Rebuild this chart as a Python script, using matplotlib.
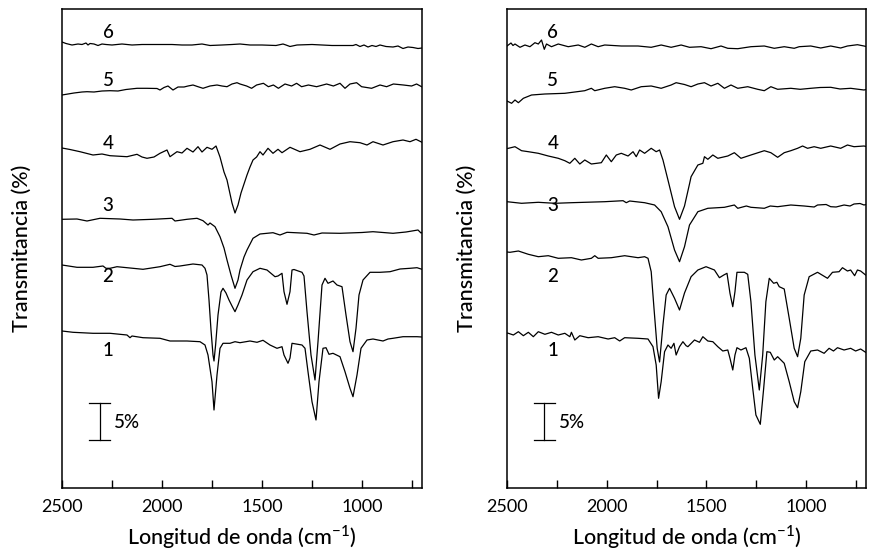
import matplotlib
matplotlib.use("Agg")
import matplotlib.pyplot as plt
from matplotlib.ticker import FixedLocator

plt.rcParams["font.family"] = ["Lato", "DejaVu Sans"]

# espectros: numero de onda (cm-1) y senal desplazada
# (unidades de la figura, 37 unidades = 5 % de transmitancia)

# ---- panel izquierdo ----
izq6_x = [2500, 2480, 2450, 2420, 2400, 2380, 2370, 2360, 2340, 2320, 2300, 2280, 2250, 2200, 2150,
          2100, 2050, 2000, 1950, 1900, 1850, 1800, 1760, 1700, 1650, 1610, 1560, 1500, 1430, 1395,
          1380, 1360, 1325, 1250, 1150, 1045, 1030, 1010, 990, 970, 950, 930, 910, 880, 845,
          820, 795, 770, 745, 720, 700]
izq6_y = [446, 444.5, 443, 444, 443.5, 445, 443, 444.5, 444, 442.5, 444, 443.5, 443, 444, 443,
          443.5, 443.5, 443.5, 443.5, 443, 443, 444, 442.5, 443, 443.5, 444, 443, 443, 442.5, 444,
          443, 441.5, 443, 443.5, 442.5, 442.5, 443.5, 441.5, 443, 441, 442.5, 441.5, 443, 441.5, 441,
          442, 439.5, 441, 440.5, 439.5, 440]

izq5_x = [2500, 2470, 2440, 2400, 2375, 2340, 2300, 2260, 2220, 2180, 2125, 2075, 2025, 2010, 1990,
          1970, 1945, 1920, 1890, 1870, 1845, 1820, 1795, 1760, 1725, 1700, 1675, 1650, 1625, 1610,
          1577, 1552, 1527, 1493, 1468, 1443, 1418, 1385, 1352, 1327, 1302, 1268, 1227, 1177, 1143,
          1110, 1085, 1060, 1027, 1002, 952, 910, 877, 843, 793, 752, 727, 702]
izq5_y = [393, 394, 395, 396, 396.3, 396, 397, 397.3, 397, 398.5, 399.7, 399.7, 399.5, 398, 400.5,
          402, 398, 401, 401, 402, 403, 401.3, 399.7, 402, 403, 402, 401.3, 404, 405.3, 404,
          402, 399.7, 403, 404.7, 401.3, 403, 399.7, 404, 402, 404.7, 401.3, 403, 401.3, 404, 402,
          404.7, 399.7, 404, 405.3, 401.3, 399.7, 403, 401.3, 404, 403, 402, 404, 401.3]

izq4_x = [2500, 2460, 2410, 2345, 2300, 2260, 2175, 2125, 2100, 2075, 2040, 2010, 1975, 1960, 1925,
          1900, 1875, 1845, 1820, 1800, 1775, 1750, 1730, 1710, 1690, 1675, 1650, 1635, 1620, 1605,
          1595, 1575, 1560, 1545, 1527, 1510, 1495, 1470, 1445, 1420, 1400, 1360, 1310, 1260, 1210,
          1160, 1110, 1060, 1010, 975, 945, 895, 845, 795, 760, 730, 700]
izq4_y = [340, 338.5, 336.3, 333, 334, 332.3, 331.3, 333.7, 331, 329.7, 331, 334.7, 338, 331.3, 336.3,
          335, 339.7, 336, 341.3, 336, 340.7, 338.7, 342, 331, 316, 308, 285, 275, 283, 295,
          301, 313, 321, 328, 331, 336.3, 333, 339.7, 334.7, 338.7, 335.3, 340.7, 336.3, 338.7, 343,
          338.7, 344, 346.3, 345.3, 343, 346.3, 343, 346.3, 348, 346.3, 348.7, 345.7]

izq3_x = [2500, 2425, 2375, 2310, 2210, 2145, 2045, 1950, 1935, 1875, 1825, 1795, 1770, 1760, 1735,
          1710, 1690, 1675, 1655, 1635, 1620, 1610, 1590, 1575, 1545, 1510, 1445, 1410, 1375, 1275,
          1240, 1200, 1110, 1000, 945, 845, 780, 720, 705, 700]
izq3_y = [268.7, 269, 267, 269.7, 269, 268, 268.7, 269.7, 267, 268.7, 269.7, 267.3, 263, 265, 261.3,
          251.3, 240, 228, 213, 199.7, 208, 218, 231, 238, 249.7, 254, 255.3, 253, 255.7, 254.7,
          253, 255, 254.7, 255.5, 256.3, 254.7, 256, 258, 255, 255.5]

izq2_x = [2500, 2425, 2345, 2295, 2280, 2260, 2225, 2160, 2095, 2010, 1960, 1935, 1910, 1845, 1800,
          1785, 1775, 1765, 1755, 1745, 1740, 1732, 1720, 1705, 1695, 1680, 1665, 1650, 1635, 1620,
          1600, 1575, 1545, 1510, 1475, 1435, 1420, 1400, 1390, 1375, 1360, 1350, 1340, 1300, 1290,
          1275, 1255, 1235, 1220, 1200, 1185, 1170, 1145, 1125, 1100, 1080, 1060, 1045, 1030, 1015,
          995, 960, 910, 860, 810, 760, 725, 700]
izq2_y = [223, 220.7, 220.7, 222, 219.7, 219.7, 221.3, 220, 218.7, 221.3, 223.7, 221.5, 222, 224, 223,
          219.7, 213, 188, 158, 133, 127, 143, 173, 196, 199.7, 195, 188, 182, 176.3, 183,
          193, 208, 216.3, 219.7, 218, 211.3, 212, 214.7, 196.3, 183.7, 196.3, 218, 218.5, 215.7, 212,
          176.3, 133, 108, 146.3, 203, 209.7, 204.7, 207, 203, 201.3, 173, 146.3, 136.3, 159.7, 193,
          208, 215.7, 215.7, 216.3, 219, 219.7, 220.3, 218.7]

izq1_x = [2500, 2445, 2345, 2260, 2175, 2160, 2150, 2095, 2010, 1960, 1875, 1810, 1785, 1770, 1750,
          1740, 1725, 1710, 1695, 1660, 1635, 1610, 1560, 1525, 1495, 1460, 1425, 1400, 1390, 1370,
          1360, 1350, 1300, 1285, 1270, 1250, 1230, 1215, 1195, 1180, 1165, 1145, 1110, 1085, 1060,
          1045, 1025, 1005, 975, 945, 895, 870, 845, 795, 725, 700]
izq1_y = [157, 155.7, 154.7, 154.7, 153, 150.3, 152, 150.3, 149.7, 147, 147, 146.3, 143, 133, 106.3,
          78, 113, 139.7, 144.7, 144.7, 146.3, 145.3, 147, 145.7, 147.7, 143, 139.7, 141.3, 133, 124.7,
          130, 144.7, 143, 139.7, 116.3, 86.3, 68, 106.3, 139.7, 140.3, 133.7, 134.7, 131.3, 116.3, 99.7,
          91.3, 113, 139.7, 148, 149, 147, 149, 149.7, 151.3, 151.3, 151]

# ---- panel derecho ----
der6_x = [2500, 2480, 2470, 2460, 2435, 2410, 2385, 2360, 2343, 2327, 2313, 2302, 2277, 2243, 2193,
          2143, 2110, 2077, 2043, 2010, 1927, 1843, 1777, 1727, 1677, 1627, 1585, 1527, 1477, 1427,
          1393, 1343, 1277, 1210, 1160, 1110, 1060, 1035, 977, 927, 877, 827, 793, 743, 710, 700]
der6_y = [442, 445, 442.5, 444, 440.7, 443, 441.3, 445.3, 444, 448, 438.7, 444, 441.3, 444, 441.3,
          443, 440.7, 444, 441.3, 443, 442, 442, 440.7, 443, 440.7, 443, 440.7, 441.3, 439.3, 442,
          439.7, 439.3, 441.3, 442, 439.7, 441.3, 439.7, 441.3, 442, 440, 442, 440, 442, 443.3, 442, 441.5]

der5_x = [2500, 2493, 2477, 2460, 2443, 2418, 2377, 2310, 2210, 2110, 2077, 2060, 2010, 1960, 1910,
          1877, 1827, 1777, 1727, 1677, 1652, 1610, 1577, 1543, 1510, 1477, 1443, 1410, 1377, 1343,
          1293, 1243, 1210, 1177, 1143, 1077, 1030, 977, 930, 877, 830, 777, 710, 700]
der5_y = [387, 386.3, 384.7, 388, 385.3, 389.7, 393, 394, 394.7, 397.3, 399.7, 397.3, 399.7, 401.3, 399.7,
          398, 401.3, 402, 399.7, 403, 405.3, 403.5, 401.3, 404, 405.3, 402, 404.7, 399.7, 403, 399.7,
          401.3, 398.7, 397.3, 401.3, 398.7, 399.7, 398.7, 399.7, 400.5, 400.7, 399, 399.7, 398, 398.5]

der4_x = [2500, 2493, 2460, 2427, 2393, 2343, 2293, 2243, 2210, 2185, 2160, 2135, 2110, 2077, 2027,
          2002, 1977, 1952, 1927, 1893, 1868, 1852, 1835, 1810, 1777, 1752, 1735, 1718, 1693, 1660,
          1635, 1610, 1585, 1577, 1543, 1518, 1510, 1493, 1468, 1443, 1393, 1360, 1327, 1277, 1210,
          1177, 1143, 1110, 1077, 1043, 1018, 993, 960, 927, 877, 827, 793, 760, 710, 700]
der4_y = [339.5, 339.7, 341.3, 337.3, 336.3, 334.7, 332, 329.7, 327.3, 324.7, 329.7, 324, 328, 324, 325.3,
          333, 326.3, 333, 334.7, 332, 336.3, 331.3, 338, 334.7, 339.7, 336.3, 338, 328, 308, 281.3,
          268.7, 282, 304, 311.3, 323, 324.7, 331.3, 328.7, 333, 329.7, 332, 335.3, 329.7, 333, 337.3,
          335.3, 330.7, 335.3, 337.3, 339.7, 342, 339.7, 341.3, 339.7, 342, 339.7, 343, 341.3, 342, 341.5]

der3_x = [2500, 2427, 2343, 2260, 2177, 2010, 1918, 1902, 1885, 1810, 1760, 1727, 1693, 1660, 1635,
          1610, 1585, 1543, 1493, 1410, 1360, 1343, 1300, 1277, 1210, 1180, 1143, 1077, 1010, 960,
          943, 900, 877, 850, 810, 780, 760, 730, 710, 700]
der3_y = [286.3, 284.7, 285.7, 284.7, 285.3, 286.3, 287.3, 285.3, 287, 285.3, 283, 276.3, 261.3, 238, 226.3,
          241.3, 263, 276.3, 279.7, 280.7, 283, 279.7, 282, 280.7, 279.7, 282, 281.3, 283, 282, 281,
          283, 283.5, 281.3, 281, 283, 282, 284, 284.5, 283, 283.5]

der2_x = [2500, 2485, 2443, 2393, 2343, 2293, 2243, 2177, 2127, 2077, 2060, 2043, 1977, 1910, 1843,
          1810, 1793, 1777, 1763, 1747, 1735, 1718, 1702, 1685, 1660, 1635, 1610, 1577, 1543, 1502,
          1460, 1435, 1413, 1397, 1382, 1368, 1357, 1347, 1310, 1293, 1277, 1257, 1235, 1218, 1202,
          1185, 1163, 1147, 1135, 1110, 1085, 1060, 1043, 1027, 1010, 985, 943, 893, 868, 835,
          818, 793, 777, 757, 743, 727, 702]
der2_y = [236, 235.7, 237, 233.7, 231.3, 232.3, 229.7, 230.3, 228, 229.7, 232.3, 229.7, 230.3, 232.3, 230.3,
          231.3, 229.7, 216.3, 179.7, 139.7, 126, 163, 193, 199.7, 189.7, 178, 195, 211.3, 218, 221.3,
          218, 210.3, 213, 214.7, 194.7, 181.3, 196.3, 215.7, 215.7, 213.7, 186.3, 133, 98, 133, 186.3,
          209.7, 204.7, 205.7, 201.3, 199, 169.7, 139.7, 131.3, 149.7, 193, 211.3, 215.7, 209.7, 215.7, 216.3,
          220.3, 217, 218, 212.3, 218, 217, 213]

der1_x = [2500, 2493, 2468, 2443, 2418, 2393, 2368, 2343, 2310, 2277, 2243, 2210, 2185, 2177, 2160,
          2135, 2093, 2043, 1993, 1960, 1935, 1910, 1843, 1793, 1768, 1752, 1740, 1727, 1710, 1693,
          1677, 1663, 1652, 1635, 1618, 1602, 1593, 1560, 1535, 1518, 1493, 1468, 1443, 1418, 1393,
          1382, 1368, 1357, 1347, 1327, 1302, 1285, 1268, 1252, 1230, 1213, 1197, 1180, 1160, 1143,
          1110, 1085, 1060, 1043, 1027, 1007, 977, 943, 910, 885, 863, 843, 810, 777, 752,
          727, 702]
der1_y = [155, 154.7, 153, 156.3, 152.3, 155.7, 151.3, 156.3, 153.7, 155.7, 153, 154.7, 151.3, 155.7, 148,
          152.3, 150.3, 151.3, 149, 150.3, 147, 150.3, 149.7, 149, 141.3, 123, 89.7, 106.3, 136.3, 143,
          139.7, 144.7, 133, 141.3, 146.3, 142.3, 141.3, 148, 145.7, 151.3, 147, 146.3, 141.3, 137, 138,
          129.7, 118, 133, 140.3, 138, 140.3, 129.7, 99.7, 73, 63.7, 99.7, 136.3, 135.7, 128, 131.3,
          124.7, 106.3, 86.3, 80.3, 96.3, 126.3, 137, 138, 134.7, 139.7, 137, 140.3, 138, 139.7, 137,
          139, 135.7]

etiquetas = ["1", "2", "3", "4", "5", "6"]
pos_etiqueta = [138, 211, 283, 345, 408, 456]

paneles = [
    ([izq1_x, izq2_x, izq3_x, izq4_x, izq5_x, izq6_x],
     [izq1_y, izq2_y, izq3_y, izq4_y, izq5_y, izq6_y]),
    ([der1_x, der2_x, der3_x, der4_x, der5_x, der6_x],
     [der1_y, der2_y, der3_y, der4_y, der5_y, der6_y]),
]

W, H = 872, 550
fig = plt.figure(figsize=(W / 100, H / 100), dpi=100)
rects = [[62 / W, 62 / H, 360 / W, 479 / H], [507 / W, 62 / H, 359 / W, 479 / H]]

for rect, (xs, ys) in zip(rects, paneles):
    ax = fig.add_axes(rect)
    for x, y in zip(xs, ys):
        ax.plot(x, y, color="black", lw=0.9)
    for lab, h in zip(etiquetas, pos_etiqueta):
        ax.text(2270, h, lab, ha="center", va="center", fontsize=13.5, fontweight="medium")
    # barra de escala 5 %
    ax.plot([2312, 2312], [48, 85], color="black", lw=0.9)
    ax.plot([2365, 2260], [85, 85], color="black", lw=0.9)
    ax.plot([2365, 2260], [48, 48], color="black", lw=0.9)
    ax.text(2238, 66, "5%", ha="left", va="center", fontsize=13.5, fontweight="medium")

    ax.set_xlim(2500, 700)
    ax.set_ylim(0, 479)
    ax.set_yticks([])
    ax.xaxis.set_major_locator(FixedLocator([2500, 2000, 1500, 1000]))
    ax.xaxis.set_minor_locator(FixedLocator([2250, 1750, 1250, 750]))
    ax.tick_params(axis="x", which="both", direction="in", length=6, width=1, top=False,
                   labelsize=13, pad=8)
    for s in ax.spines.values():
        s.set_linewidth(1.1)

    cx = (rect[0] + rect[2] / 2)
    fig.text(cx, 1 - 537 / H, r"Longitud de onda (cm$^{\mathdefault{-1}}$)", ha="center",
             va="center", fontsize=15.5, fontweight="medium")
    fig.text(rect[0] - 40 / W, 1 - 248 / H, "Transmitancia (%)", rotation=90,
             ha="center", va="center", fontsize=15.5, fontweight="medium")

fig.savefig("out.png", dpi=100)
